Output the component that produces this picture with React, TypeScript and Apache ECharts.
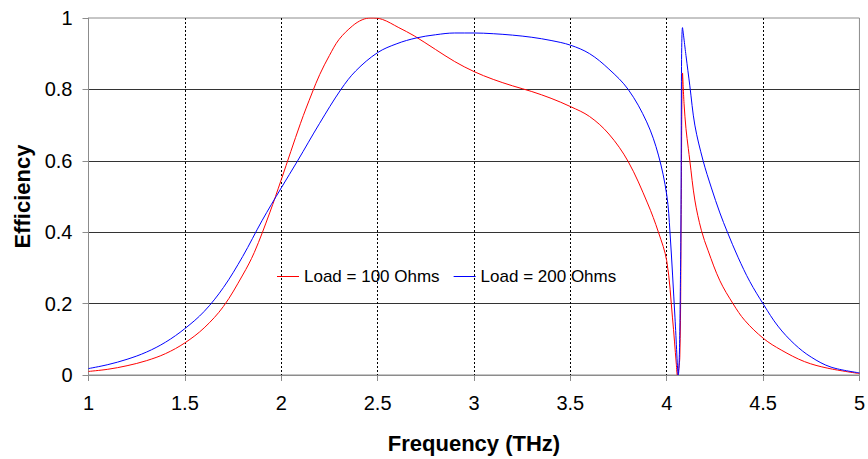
import React, { useEffect, useRef } from "react";
import * as echarts from "echarts";

const freq100 = [1.0, 1.1, 1.2, 1.3, 1.4, 1.5, 1.6, 1.7, 1.8, 1.86, 1.94, 2.0, 2.1, 2.16, 2.2, 2.25, 2.3, 2.37, 2.42, 2.465, 2.525, 2.61, 2.69, 2.8, 2.9, 3.0, 3.1, 3.2, 3.3, 3.4, 3.5, 3.6, 3.7, 3.8, 3.9, 3.957, 4.0, 4.03, 4.05, 4.055, 4.068, 4.075, 4.082, 4.09, 4.1, 4.112, 4.12, 4.146, 4.18, 4.215, 4.276, 4.345, 4.405, 4.503, 4.594, 4.715, 4.836, 5.0];
const eff100 = [0.010, 0.016, 0.026, 0.040, 0.060, 0.090, 0.132, 0.192, 0.280, 0.343, 0.454, 0.547, 0.705, 0.790, 0.842, 0.895, 0.940, 0.978, 0.995, 1.000, 0.996, 0.973, 0.950, 0.912, 0.878, 0.850, 0.828, 0.810, 0.794, 0.775, 0.752, 0.724, 0.675, 0.598, 0.482, 0.400, 0.320, 0.160, 0.030, 0.000, 0.050, 0.450, 0.846, 0.760, 0.690, 0.635, 0.600, 0.490, 0.405, 0.348, 0.264, 0.199, 0.153, 0.102, 0.070, 0.0375, 0.019, 0.004];

const freq200 = [1.0, 1.1, 1.2, 1.3, 1.4, 1.5, 1.6, 1.7, 1.8, 1.9, 2.0, 2.085, 2.198, 2.31, 2.387, 2.5, 2.6, 2.7, 2.8, 2.9, 3.0, 3.1, 3.2, 3.3, 3.4, 3.5, 3.6, 3.7, 3.8, 3.896, 3.957, 4.0, 4.017, 4.043, 4.06, 4.072, 4.082, 4.1, 4.12, 4.146, 4.189, 4.232, 4.276, 4.315, 4.37, 4.431, 4.503, 4.577, 4.664, 4.75, 4.853, 5.0];
const eff200 = [0.018, 0.029, 0.044, 0.064, 0.092, 0.130, 0.178, 0.245, 0.332, 0.432, 0.524, 0.600, 0.704, 0.800, 0.852, 0.903, 0.928, 0.944, 0.953, 0.958, 0.958, 0.956, 0.952, 0.946, 0.937, 0.924, 0.900, 0.857, 0.800, 0.709, 0.616, 0.505, 0.400, 0.160, 0.000, 0.300, 0.973, 0.895, 0.810, 0.700, 0.600, 0.524, 0.454, 0.400, 0.330, 0.262, 0.197, 0.137, 0.086, 0.050, 0.022, 0.006];

const seriesNames = ["Load = 100 Ohms", "Load = 200 Ohms"];
const xTitle = "Frequency (THz)";
const yTitle = "Efficiency";

const pairs = (xs: number[], ys: number[]) => xs.map((x, i) => [x, ys[i]]);

export default function App() {
  const ref = useRef<HTMLDivElement>(null);
  useEffect(() => {
    if (!ref.current) return;
    const chart = echarts.init(ref.current, undefined, { renderer: "svg" });
    const font = "Arial, 'Liberation Sans', sans-serif";
    chart.setOption({
      animation: false,
      backgroundColor: "#ffffff",
      textStyle: { fontFamily: font },
      grid: {
        left: 88.5,
        right: 6.5,
        top: 18,
        bottom: 80,
        show: true,
        borderColor: "#8c8c8c",
        borderWidth: 1,
        containLabel: false,
      },
      legend: {
        left: 272,
        top: 263,
        itemWidth: 22,
        itemHeight: 14,
        itemGap: 14,
        icon: "path://M0,7 L22,7 L22,8 L0,8 Z",
        textStyle: { fontSize: 17, color: "#000", fontFamily: font },
        data: seriesNames,
      },
      xAxis: {
        type: "value",
        min: 1,
        max: 5,
        interval: 0.5,
        name: xTitle,
        nameLocation: "middle",
        nameGap: 57,
        nameTextStyle: { fontSize: 22, fontWeight: "bold", color: "#000", fontFamily: font },
        axisLine: { show: true, lineStyle: { color: "#8c8c8c", width: 1 } },
        axisTick: { show: true, length: 6, lineStyle: { color: "#8c8c8c" } },
        axisLabel: { fontSize: 20, color: "#000", margin: 18, fontFamily: font },
        splitLine: {
          show: true,
          lineStyle: {
            color: ["transparent", "#000", "#000", "#000", "#000", "#000", "#000", "#000", "transparent"],
            type: [2, 2],
            width: 1,
          },
        },
      },
      yAxis: {
        type: "value",
        min: 0,
        max: 1,
        interval: 0.2,
        name: yTitle,
        nameLocation: "middle",
        nameGap: 55,
        nameTextStyle: { fontSize: 22, fontWeight: "bold", color: "#000", fontFamily: font },
        axisLine: { show: true, lineStyle: { color: "#8c8c8c", width: 1 } },
        axisTick: { show: true, length: 6, lineStyle: { color: "#8c8c8c" } },
        axisLabel: { fontSize: 20, color: "#000", margin: 16, fontFamily: font },
        splitLine: {
          show: true,
          lineStyle: {
            color: ["transparent", "#333", "#333", "#333", "#333", "transparent"],
            type: "solid",
            width: 1,
          },
        },
      },
      series: [
        {
          name: seriesNames[0],
          type: "line",
          data: pairs(freq100, eff100),
          symbol: "none",
          smooth: 0.35,
          clip: true,
          lineStyle: { color: "#ff0000", width: 1 },
          itemStyle: { color: "#ff0000" },
        },
        {
          name: seriesNames[1],
          type: "line",
          data: pairs(freq200, eff200),
          symbol: "none",
          smooth: 0.35,
          clip: true,
          lineStyle: { color: "#0000ff", width: 1 },
          itemStyle: { color: "#0000ff" },
        },
      ],
    });
    return () => chart.dispose();
  }, []);
  return <div ref={ref} style={{ width: 868, height: 459, position: "fixed", left: 0, top: 0 }} />;
}
